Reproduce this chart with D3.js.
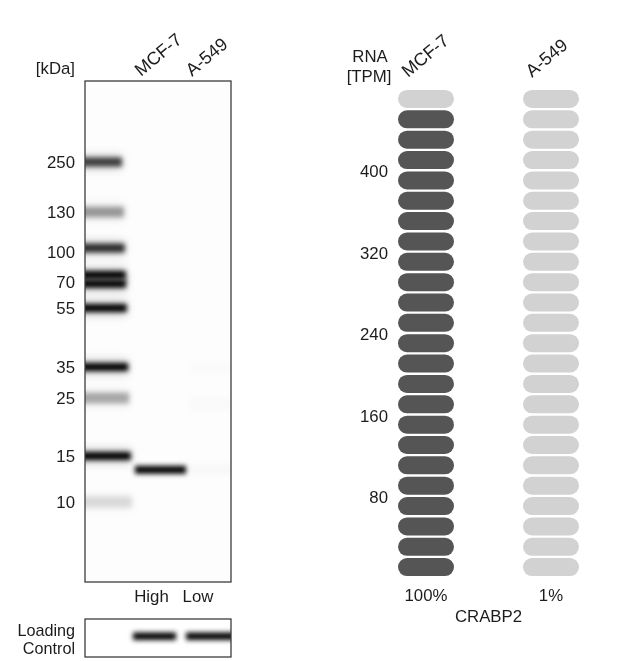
<!DOCTYPE html>
<html><head><meta charset="utf-8">
<script src="https://cdn.jsdelivr.net/npm/d3@7"></script>
<style>html,body{margin:0;background:#fff}svg{display:block}text{font-family:"Liberation Sans",Arial,sans-serif;font-size:16.8px;fill:#1c1c1c}</style>
</head><body><svg id="c" width="640" height="661"></svg>
<script>
// ---- data ----
const ladderLabels = [250,130,100,70,55,35,25,15,10];
const ladderBandKDa = [250,130,103,77,69,55,35,25,15,10];
const ladderBandIntensity = [0.72,0.36,0.8,1,1,1,1,0.3,1,0.12];
const sampleKDa = [13.5,24,35,13.5];
const sampleLane = ["MCF-7","A-549","A-549","A-549"];
const sampleIntensity = [1,0.015,0.012,0.02];
const laneNames = ["MCF-7","A-549"];
const levels = ["High","Low"];
const loadingIntensity = [1,1];
const rnaCells = ["MCF-7","A-549"];
const rnaValues = [465,4.6];
const rnaPercent = ["100%","1%"];
const rnaTicks = [400,320,240,160,80];
const gene = "CRABP2";

const svg = d3.select("#c");
const defs = svg.append("defs");
[["core",[2.6,2.4]],["halo",[4,5]],["soft",[0.4,0.4]]].forEach(([id,s])=>{
  defs.append("filter").attr("id",id).attr("x","-30%").attr("y","-400%").attr("width","160%").attr("height","900%")
    .append("feGaussianBlur").attr("stdDeviation",s.join(" "));
});
const blot = {x:85,y:81,w:146,h:501};
const ctrl = {x:85,y:619,w:146,h:38};
defs.append("clipPath").attr("id","cb").append("rect").attr("x",blot.x).attr("y",blot.y).attr("width",blot.w).attr("height",blot.h);
defs.append("clipPath").attr("id","cc").append("rect").attr("x",ctrl.x).attr("y",ctrl.y).attr("width",ctrl.w).attr("height",ctrl.h);

// scales
const yKDa = d3.scaleLinear().domain(ladderLabels).range([162,212,252,282,308,367,398,456,502]);
const ladderEnd = d3.scaleLog().domain([250,10]).range([122,132]);
const laneX = d3.scaleOrdinal().domain(laneNames).range([[135,186],[190,232]]);
const bandH = d3.scaleLinear().domain([0,1]).range([12,8]);
const levelX = d3.scaleOrdinal().domain(levels).range([[133,176],[186,236]]);
const gray = i => d3.rgb(0,0,0,i);

// blot
const gb = svg.append("g").attr("clip-path","url(#cb)");
gb.append("rect").attr("x",blot.x).attr("y",blot.y).attr("width",blot.w).attr("height",blot.h).attr("fill","#fdfdfd");
function ladder(cls,filter,alpha,grow){
  gb.selectAll("."+cls).data(ladderBandKDa).join("rect").attr("class",cls)
    .attr("x",blot.x-10)
    .attr("width",d=>ladderEnd(d)-blot.x+10)
    .attr("y",(d,i)=>yKDa(d)-bandH(ladderBandIntensity[i])/2-grow)
    .attr("height",(d,i)=>bandH(ladderBandIntensity[i])+2*grow)
    .attr("fill",(d,i)=>gray(ladderBandIntensity[i]*alpha))
    .attr("filter",filter);
}
ladder("lh","url(#halo)",0.2,3);
ladder("lc","url(#core)",1,0);
gb.selectAll(".sample").data(sampleKDa).join("rect").attr("class","sample")
  .attr("x",(d,i)=>laneX(sampleLane[i])[0])
  .attr("width",(d,i)=>laneX(sampleLane[i])[1]-laneX(sampleLane[i])[0])
  .attr("y",(d,i)=>yKDa(d)-bandH(sampleIntensity[i])/2)
  .attr("height",(d,i)=>bandH(sampleIntensity[i]))
  .attr("fill",(d,i)=>gray(sampleIntensity[i]))
  .attr("filter","url(#core)");
svg.append("rect").attr("x",blot.x).attr("y",blot.y).attr("width",blot.w).attr("height",blot.h).attr("fill","none").attr("stroke","#3c3c3c").attr("stroke-width",1.3);

// loading control
const gc = svg.append("g").attr("clip-path","url(#cc)");
gc.selectAll("rect").data(levels).join("rect")
  .attr("x",d=>levelX(d)[0]).attr("width",d=>levelX(d)[1]-levelX(d)[0])
  .attr("y",632.5).attr("height",7.5)
  .attr("fill",(d,i)=>gray(loadingIntensity[i])).attr("filter","url(#core)");
svg.append("rect").attr("x",ctrl.x).attr("y",ctrl.y).attr("width",ctrl.w).attr("height",ctrl.h).attr("fill","none").attr("stroke","#3c3c3c").attr("stroke-width",1.3);

// blot text
const gt = svg.append("g").attr("filter","url(#soft)");
const txt = (x,y,s,a="middle",fs=null)=>gt.append("text").attr("x",x).attr("y",y).attr("dy","0.36em").attr("text-anchor",a).style("font-size",fs).text(s);
txt(75,68,"[kDa]","end");
ladderLabels.forEach(d=>txt(75,yKDa(d),d,"end"));
const rot = (x,y,s)=>gt.append("text").attr("transform",`translate(${x},${y}) rotate(-40)`).style("font-size","18px").text(s);
rot(141,77,laneNames[0]); rot(192,77,laneNames[1]);
txt(151.5,596,levels[0]); txt(198,596,levels[1]);
txt(75,630.5,"Loading","end","16.2px"); txt(75,648.5,"Control","end","16.2px");

// RNA pills
const yTPM = d3.scaleLinear().domain([0,480]).range([577.3,88.8]);
const pillEdges = d3.range(0,480,20);
const colX = d3.scaleOrdinal().domain(rnaCells).range([398,523]);
const pillW = 56, pillH = 18;
rnaCells.forEach((c,ci)=>{
  svg.append("g").selectAll("rect").data(pillEdges).join("rect")
    .attr("x",colX(c)).attr("width",pillW)
    .attr("y",d=>yTPM(d+10)-pillH/2).attr("height",pillH)
    .attr("rx",9).attr("ry",9)
    .attr("fill",d=>d+20<=rnaValues[ci]?"#555555":"#d2d2d2");
  txt(colX(c)+pillW/2,595,rnaPercent[ci]);
});
txt(370,56,"RNA"); txt(369,76,"[TPM]");
rnaTicks.forEach(d=>txt(388,yTPM(d)+1,d,"end"));
rot(408,78,rnaCells[0]); rot(532,78,rnaCells[1]);
txt(488.5,616,gene);
</script></body></html>
